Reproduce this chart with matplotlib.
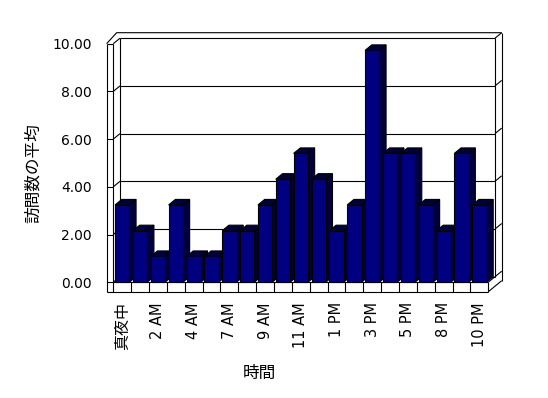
import matplotlib
matplotlib.use('Agg')
import matplotlib.pyplot as plt
from matplotlib.patches import Polygon

plt.rcParams['font.family'] = ['DejaVu Sans', 'Noto Sans CJK JP']

categories = ['真夜中', '1 AM', '2 AM', '3 AM', '4 AM', '6 AM', '7 AM', '8 AM', '9 AM',
              '10 AM', '11 AM', '正午', '1 PM', '2 PM', '3 PM', '4 PM', '5 PM', '7 PM',
              '8 PM', '9 PM', '10 PM']
values = [3.24, 2.16, 1.08, 3.24, 1.08, 1.08, 2.16, 2.16, 3.24, 4.32, 5.40, 4.32,
          2.16, 3.24, 9.72, 5.40, 5.40, 3.24, 2.16, 5.40, 3.24]
yticks = [0, 2, 4, 6, 8, 10]
ytick_labels = ['0.00', '2.00', '4.00', '6.00', '8.00', '10.00']
x_title = '時間'
y_title = '訪問数の平均'

W, H = 548, 398
L, R = 113.3, 488.3
Y0, Y10 = 282.2, 43.7

fig = plt.figure(figsize=(W / 100, H / 100), dpi=100)
ax = fig.add_axes([L / W, (H - Y0) / H, (R - L) / W, (Y0 - Y10) / H])
n = len(categories)
ax.set_xlim(-0.5, n - 0.5)
ax.set_ylim(0, 10)
for s in ax.spines.values():
    s.set_visible(False)
ax.patch.set_visible(False)

pxx = (R - L) / n
pxy = (Y0 - Y10) / 10
dx = 6.7 / pxx
dy = 5.5 / pxy
fl = 9.5 / pxy
xa, xb = -0.5, n - 0.5
lw = 0.8
kw = dict(color='black', lw=lw, clip_on=False, solid_capstyle='butt')

# back wall and left wall
for v in yticks:
    ax.plot([xa + dx, xb + dx], [v + dy, v + dy], zorder=1, **kw)
    ax.plot([xa, xa + dx], [v, v + dy], zorder=1, **kw)
    ax.plot([xb + dx, xb + 2 * dx], [v + dy, v + 2 * dy], zorder=1, **kw)
    ax.plot([xa - dx, xa], [v, v], zorder=1, **kw)
ax.plot([xa, xa], [0, 10], zorder=1, **kw)
ax.plot([xa + dx, xa + dx], [dy, 10 + dy], zorder=1, **kw)
ax.plot([xa - dx, xa - dx], [-fl, 10], zorder=1, **kw)
ax.plot([xa - dx, xa + 0.5 * dx, xb + 2 * dx], [10, 10 + 2 * dy, 10 + 2 * dy], zorder=1, **kw)
ax.plot([xb + dx, xb + dx], [dy, 10 + dy], zorder=1, **kw)
ax.plot([xb + 2 * dx, xb + 2 * dx], [-fl + 2 * dy, 10 + 2 * dy], zorder=1, **kw)

# floor
ax.plot([xa, xb], [0, 0], zorder=1, **kw)
ax.plot([xa - dx, xb], [-fl, -fl], zorder=1, **kw)
for k in range(n + 1):
    ax.plot([k - 0.5, k - 0.5], [-fl, 0], zorder=1, **kw)
ax.plot([xb, xb + dx], [0, dy], zorder=1, **kw)
ax.plot([xb, xb + 2 * dx], [-fl, -fl + 2 * dy], zorder=1, **kw)

# bars
bw = 0.8
front = '#000080'
shade = '#00003c'
bars = ax.bar(range(n), values, width=bw, color=front, edgecolor='black', linewidth=lw)
for i, (b, h) in enumerate(zip(bars, values)):
    xl, xr = i - bw / 2, i + bw / 2
    side = Polygon([(xr, 0), (xr + dx, dy), (xr + dx, h + dy), (xr, h)], closed=True,
                   facecolor=shade, edgecolor='black', lw=lw, zorder=3 + 2 * i, clip_on=False)
    top = Polygon([(xl, h), (xl + dx, h + dy), (xr + dx, h + dy), (xr, h)], closed=True,
                  facecolor=shade, edgecolor='black', lw=lw, zorder=3 + 2 * i, clip_on=False)
    ax.add_patch(side)
    ax.add_patch(top)
    b.set_zorder(4 + 2 * i)
    b.set_clip_on(False)

# ticks
ax.set_yticks(yticks, ytick_labels)
ax.tick_params(axis='y', length=0, pad=15.5, labelsize=10)
shown = [c if i % 2 == 0 else '' for i, c in enumerate(categories)]
ax.set_xticks(range(n), shown, rotation=90)
ax.tick_params(axis='x', length=0, pad=14.5, labelsize=10.5)
first = ax.get_xticklabels()[0]
first.set_fontfamily(['Noto Sans CJK JP', 'DejaVu Sans'])
first.set_fontsize(11.5)

ax.set_xlabel(x_title, fontsize=12, family=['Noto Sans CJK JP', 'DejaVu Sans'])
ax.xaxis.set_label_coords((259 - L) / (R - L), (Y0 - 365) / (Y0 - Y10))
ax.set_ylabel(y_title, fontsize=12, family=['Noto Sans CJK JP', 'DejaVu Sans'])
ax.yaxis.set_label_coords((42 - L) / (R - L), (Y0 - 173.5) / (Y0 - Y10))

fig.savefig('out.png', dpi=100)
